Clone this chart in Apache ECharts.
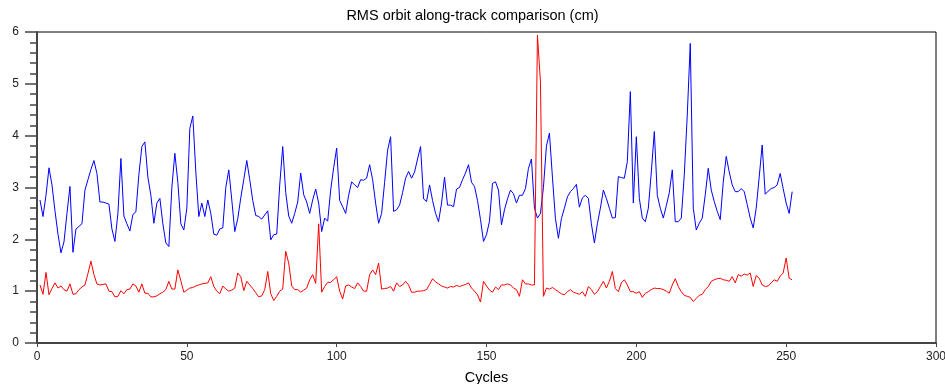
<!DOCTYPE html>
<html><head><meta charset="utf-8">
<script src="https://cdn.jsdelivr.net/npm/echarts@6/dist/echarts.min.js"></script>
<style>html,body{margin:0;padding:0;background:#fff}#c{width:945px;height:384px}</style>
</head><body><div id="c"></div>
<script>
const titleText = 'RMS orbit along-track comparison (cm)';
const xName = 'Cycles';
const firstCycle = 1;
const blueValues = [
2.76,2.44,2.85,3.38,3.05,2.55,2.1,1.74,1.95,2.5,
3.02,1.75,2.2,2.25,2.3,2.95,3.15,3.35,3.52,3.27,
2.72,2.72,2.7,2.68,2.2,1.96,2.5,3.56,2.45,2.3,
2.16,2.48,2.53,3.25,3.79,3.88,3.2,2.85,2.31,2.7,
2.79,2.3,1.93,1.86,3.0,3.66,3.1,2.3,2.18,2.6,
4.14,4.38,3.3,2.44,2.7,2.44,2.76,2.5,2.1,2.08,
2.2,2.22,3.0,3.34,2.76,2.15,2.4,2.8,3.15,3.52,
3.15,2.75,2.46,2.44,2.39,2.47,2.55,1.99,2.09,2.1,
3.05,3.79,2.9,2.45,2.31,2.5,2.72,3.28,2.86,2.72,
2.5,2.76,2.97,2.7,2.15,2.41,2.35,2.95,3.38,3.76,
2.75,2.63,2.5,2.85,3.11,3.05,3.0,3.15,3.14,3.18,
3.44,3.15,2.7,2.31,2.5,3.1,3.72,3.98,2.54,2.57,
2.66,2.9,3.18,3.31,3.18,3.3,3.55,3.79,2.78,2.73,
3.05,2.75,2.5,2.34,2.7,3.2,2.66,2.66,2.63,2.97,
3.0,3.15,3.28,3.44,3.1,3.02,2.75,2.38,1.96,2.09,
2.35,3.08,3.11,2.95,2.28,2.57,2.78,2.95,2.88,2.7,
2.85,2.85,2.98,3.37,3.55,2.6,2.41,2.5,3.0,3.8,
4.05,3.2,2.4,2.02,2.4,2.6,2.82,2.92,2.98,3.06,
2.62,2.8,2.85,2.79,2.3,1.93,2.3,2.6,2.95,2.79,
2.6,2.41,2.42,3.21,3.19,3.18,3.5,4.85,2.7,3.98,
2.79,2.41,2.34,2.6,3.3,4.08,2.85,2.6,2.41,2.65,
2.9,3.34,2.34,2.34,2.41,3.24,4.4,5.78,2.6,2.18,
2.31,2.41,2.86,3.37,2.95,2.73,2.54,2.38,3.1,3.6,
3.3,3.05,2.92,2.92,2.98,2.92,2.67,2.41,2.22,2.6,
3.2,3.82,2.87,2.93,2.98,3.0,3.05,3.27,2.98,2.7,
2.5,2.92
];
const redValues = [
1.12,0.94,1.36,0.93,1.05,1.16,1.06,1.1,1.03,1.0,
1.14,0.94,0.95,1.03,1.08,1.12,1.34,1.58,1.32,1.14,
1.12,1.13,1.14,1.0,0.99,0.89,0.9,1.01,0.95,1.03,
1.04,1.14,1.1,0.98,1.14,0.96,0.96,0.89,0.89,0.91,
0.95,0.98,1.03,1.19,1.04,1.04,1.41,1.2,0.98,1.02,
1.06,1.07,1.1,1.12,1.14,1.15,1.16,1.28,1.09,1.0,
0.95,1.1,1.04,1.0,1.02,1.06,1.35,1.28,1.01,1.19,
1.12,1.05,0.97,0.89,0.91,1.03,1.38,0.95,0.82,0.9,
1.0,1.04,1.77,1.54,1.1,1.03,1.03,0.98,1.02,1.06,
1.22,1.32,1.15,2.3,0.98,1.09,1.17,1.17,1.22,1.28,
1.0,0.85,1.1,1.12,1.08,1.05,1.16,1.09,1.0,1.0,
1.32,1.41,1.32,1.54,1.04,1.05,1.06,1.09,1.0,1.16,
1.09,1.12,1.19,1.12,0.98,0.98,1.0,1.0,1.01,1.03,
1.13,1.24,1.18,1.14,1.1,1.08,1.06,1.09,1.08,1.11,
1.09,1.11,1.13,1.16,1.06,1.0,0.93,0.79,1.19,1.1,
1.02,0.98,1.08,1.03,1.12,1.12,1.14,1.12,1.06,1.03,
0.9,1.22,1.14,1.14,1.12,1.12,5.94,5.04,0.9,1.06,
1.04,1.07,1.03,0.99,0.95,0.93,0.99,1.03,0.98,0.96,
0.94,0.99,0.9,1.09,1.03,0.94,0.99,1.09,1.19,1.06,
1.19,1.38,1.05,0.99,1.16,1.22,1.12,0.99,0.99,0.96,
0.99,0.88,0.96,0.99,1.03,1.06,1.05,1.05,1.03,1.0,
0.96,1.12,1.24,1.09,0.99,0.92,0.9,0.88,0.8,0.86,
0.92,0.94,1.03,1.09,1.19,1.22,1.24,1.25,1.22,1.21,
1.19,1.28,1.16,1.32,1.29,1.33,1.31,1.35,1.09,1.3,
1.25,1.12,1.09,1.1,1.16,1.22,1.19,1.29,1.35,1.64,
1.25,1.22
];
const xTicks = {min: 0, max: 300, interval: 50};
const yTicks = {min: 0, max: 6, interval: 1};

const toPairs = vals => vals.map((v, i) => [firstCycle + i, v]);
const font = 'Liberation Sans, Arial, sans-serif';
const chart = echarts.init(document.getElementById('c'), null, {renderer: 'canvas'});
chart.setOption({
  animation: false,
  backgroundColor: '#fff',
  title: {text: titleText, left: 'center', top: 8, padding: 0,
    textStyle: {fontFamily: font, fontSize: 14.5, fontWeight: 'normal', color: '#000'}},
  grid: {left: 37, right: 9, top: 32, bottom: 41, containLabel: false, outerBoundsMode: 'none',
    show: true, borderColor: '#000', borderWidth: 1, backgroundColor: 'transparent'},
  xAxis: {type: 'value', min: xTicks.min, max: xTicks.max, interval: xTicks.interval,
    name: xName, nameLocation: 'middle', nameGap: 27,
    nameTextStyle: {fontFamily: font, fontSize: 14.5, color: '#000'},
    axisLine: {lineStyle: {color: '#444', width: 2}},
    axisTick: {show: true, length: 4, lineStyle: {color: '#444'}},
    axisLabel: {margin: 8, fontFamily: font, fontSize: 12, color: '#222'},
    splitLine: {show: false}},
  yAxis: {type: 'value', min: yTicks.min, max: yTicks.max, interval: yTicks.interval,
    axisLine: {show: true, lineStyle: {color: '#444', width: 2}},
    axisTick: {show: true, length: 12, lineStyle: {color: '#444', width: 1.5}},
    minorTick: {show: true, splitNumber: 5, length: 7, lineStyle: {color: '#444', width: 1.5}},
    axisLabel: {margin: 18, fontFamily: font, fontSize: 12, color: '#222'},
    splitLine: {show: false}},
  series: [
    {type: 'line', data: toPairs(blueValues), showSymbol: false, symbol: 'none',
      lineStyle: {color: '#0000ff', width: 1}, itemStyle: {color: '#0000ff'}},
    {type: 'line', data: toPairs(redValues), showSymbol: false, symbol: 'none',
      lineStyle: {color: '#ff0000', width: 1}, itemStyle: {color: '#ff0000'}}
  ]
});
</script></body></html>
